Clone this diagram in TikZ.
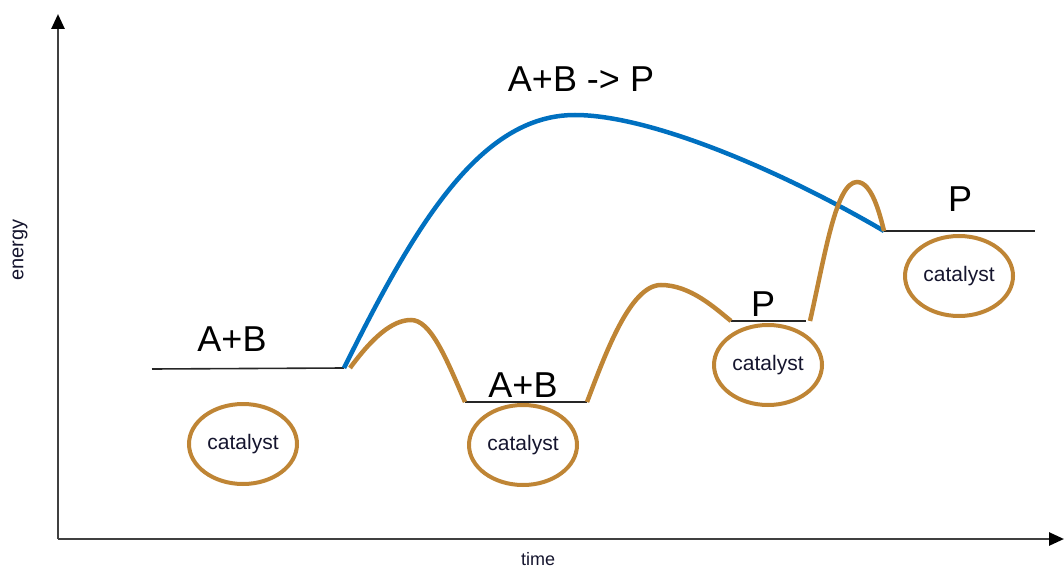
\documentclass[tikz,border=0pt]{standalone}
\usepackage{fontspec}
\setmainfont{Liberation Sans}
\usetikzlibrary{arrows.meta,shapes.geometric}
\definecolor{axc}{HTML}{404040}
\definecolor{bluec}{HTML}{0070C0}
\definecolor{brownc}{HTML}{BF8535}
\definecolor{txtc}{HTML}{15152E}
\tikzset{
  ax/.style={-{Triangle[length=15pt,width=13pt,color=black]},line width=2.6pt,axc},
  lev/.style={line width=1.6pt,black!85},
  uncat/.style={line width=4.5pt,bluec},
  withcat/.style={line width=4.5pt,brownc},
  catal/.style={ellipse,draw=brownc,line width=4pt,minimum width=108pt,minimum height=80pt,inner sep=0pt,
    font=\fontsize{21}{24}\selectfont,text=txtc},
  big/.style={font=\fontsize{36}{40}\selectfont}
}

\begin{document}
\begin{tikzpicture}[x=1pt,y=-1pt]
\useasboundingbox (0,0) rectangle (1064,569);
% axes
\coordinate (o) at (58,539);
\draw[ax] (o) -- (58,14);
\draw[ax] (o) -- (1064,539);
\node[rotate=90,font=\fontsize{20}{24}\selectfont,text=txtc] (en) at (20,250) {energy};
\node[font=\fontsize{18}{22}\selectfont,text=txtc] (tm) at (538,559) {time};
% energy levels
\coordinate (s1) at (152,369); \coordinate (s2) at (344,368);
\coordinate (m1) at (465,402); \coordinate (m2) at (587,402);
\coordinate (p1) at (731,321); \coordinate (p2) at (806,321);
\coordinate (e1) at (884,231); \coordinate (e2) at (1035,231);
\draw[lev] (s1) -- (s2);
\draw[lev] (m1) -- (m2);
\draw[lev] (p1) -- (p2);
\draw[lev] (e1) -- (e2);
\node[big] (ab1) at (232,339) {A+B};
\node[big] (ab2) at (523,385) {A+B};
\node[big] (pp1) at (763,304) {P};
\node[big] (pp2) at (960,199) {P};
\node[big] (rx) at (581,79) {A+B -> P};
% without catalyst
\draw[uncat] (s2) .. controls (415,225) and (480,115) .. (575,115)
  .. controls (650,115) and (780,170) .. (e1);
% with catalyst
\draw[withcat] (350,368) .. controls (372,338) and (392,320) .. (411,320)
  .. controls (430,320) and (445,355) .. (m1);
\draw[withcat] (m2) .. controls (605,355) and (630,285) .. (661,285)
  .. controls (690,285) and (715,308) .. (p1);
\draw[withcat] (810,321) .. controls (825,255) and (836,182) .. (857,182)
  .. controls (872,182) and (880,215) .. (e1);
% catalysts
\node[catal] (c1) at (243,444) {catalyst};
\node[catal] (c2) at (523,445) {catalyst};
\node[catal] (c3) at (768,365) {catalyst};
\node[catal] (c4) at (959,276) {catalyst};
\end{tikzpicture}
\end{document}
